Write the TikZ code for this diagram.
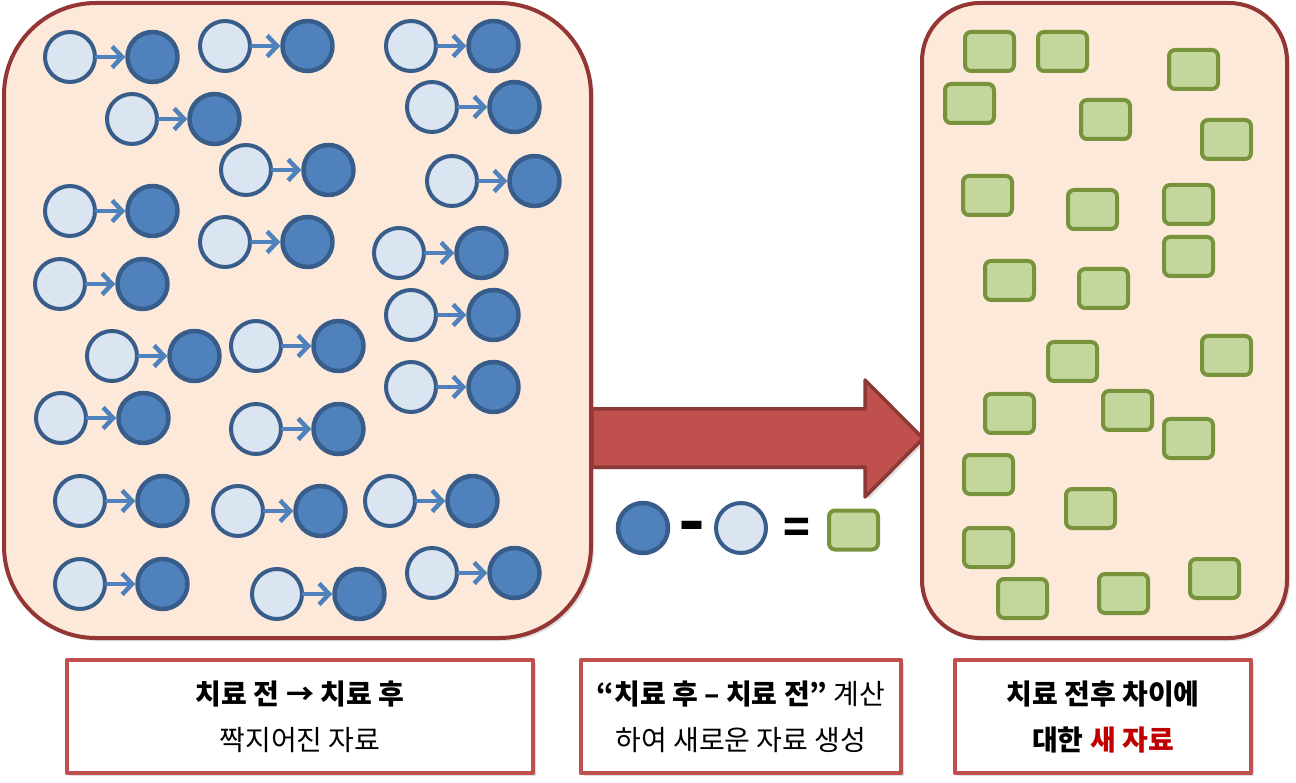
\documentclass[tikz,border=0pt]{standalone}
\usepackage{fontspec}
\setmainfont{Noto Sans CJK KR}
\usetikzlibrary{arrows.meta,shadows}
\definecolor{panelfill}{HTML}{FDE9D9}
\definecolor{panelline}{HTML}{943634}
\definecolor{bigred}{HTML}{C0504D}
\definecolor{bigredline}{HTML}{8C3836}
\definecolor{prefill}{HTML}{DBE5F1}
\definecolor{postfill}{HTML}{4F81BD}
\definecolor{circline}{HTML}{385D8A}
\definecolor{datafill}{HTML}{C3D69B}
\definecolor{dataline}{HTML}{77933C}
\definecolor{newred}{HTML}{C00000}

\begin{document}
\begin{tikzpicture}[x=1pt,y=-1pt,line join=round,line cap=round,font=\fontsize{28}{46}\selectfont,
		softshadow/.style={drop shadow={shadow xshift=3pt,shadow yshift=-3pt,opacity=.25}},
		panel/.style={draw=panelline,fill=panelfill,line width=4pt,softshadow},
		pretreat/.style={circle,draw=circline,fill=prefill,line width=4pt,minimum size=50pt,inner sep=0pt},
		posttreat/.style={pretreat,fill=postfill,line width=4.5pt},
		pairline/.style={draw=postfill,line width=4.5pt,-{Straight Barb[length=10pt,width=21pt]}},
		newdata/.style={rectangle,rounded corners=6pt,draw=dataline,fill=datafill,line width=4pt,minimum width=49pt,minimum height=39pt,inner sep=0pt},
		notebox/.style={rectangle,draw=bigred,fill=white,line width=4.5pt,minimum height=113pt,align=center,inner sep=0pt,softshadow},
		sign/.style={font=\fontsize{44}{44}\selectfont\bfseries,inner sep=0pt}]
	\useasboundingbox (0,0) rectangle (1296,783);
	\draw[bigred,fill=bigred,draw=bigredline,line width=3.5pt,softshadow] (592,409) -- (865,409) -- (865,380) -- (923,438.5) -- (865,497) -- (865,467) -- (592,467) -- cycle;
	\draw[panel,rounded corners=92pt] (4,3) rectangle (591,638);
	\draw[panel,rounded corners=58pt] (922,3) rectangle (1287,638);
	\foreach \i/\x/\y in {1/70/57,2/225/46,3/411/46,4/132/119,5/432/107,6/246/170,7/452/181,8/70/211,9/225/242,10/399/253,11/60/284,12/411/315,13/112/356,14/256/346,15/411/387,16/61/418,17/256/429,18/80/501,19/238/511,20/390/501,21/80/584,22/277/594,23/432/573}{
		\node[pretreat] (pre\i) at (\x,\y) {};
		\node[posttreat] (post\i) at (\x+82.5,\y) {};
		\draw[pairline] (pre\i) -- (post\i);
	}
	\foreach \i/\x/\y in {1/963/30,2/1036/30,3/1167/48,4/943/82,5/1079/98,6/1200/118,7/961/174,8/1066/188,9/1162/183,10/1162/235,11/983/259,12/1077/267,13/1046/340,14/1200/334,15/983/392,16/1101/389,17/1162/417,18/962/453,19/1064/487,20/962/526,21/996/577,22/1097/572,23/1188/557}
		\node[newdata] (data\i) at (\x+26.5,\y+21.5) {};
	\node[posttreat] (eqpost) at (643,528) {};
	\node[sign] (eqminus) at (692,533) {\scalebox{1.6}[1.5]{-}};
	\node[pretreat] (eqpre) at (741,528) {};
	\node[sign] (eqequal) at (797,531) {=};
	\node[newdata] (eqdata) at (853.5,530) {};
	\node[notebox,minimum width=466pt] (note1) at (300,716.5) {\textbf{치료 전 → 치료 후}\\짝지어진 자료};
	\node[notebox,minimum width=320pt] (note2) at (741,716.5) {\textbf{“치료 후 – 치료 전”} 계산\\하여 새로운 자료 생성};
	\node[notebox,minimum width=296pt] (note3) at (1103,716.5) {\textbf{치료 전후 차이에}\\\textbf{대한 \textcolor{newred}{새 자료}}};
\end{tikzpicture}
\end{document}
